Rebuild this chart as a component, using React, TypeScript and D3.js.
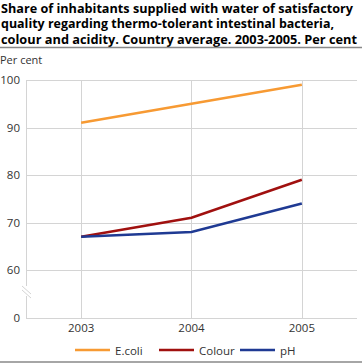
import React from "react";
import * as d3 from "d3";

const years = ["2003", "2004", "2005"];
const ecoli = [91, 95, 99];
const colour = [67, 71, 79];
const ph = [67, 68, 74];
const yTicks = [60, 70, 80, 90, 100];
const seriesNames = ["E.coli", "Colour", "pH"];
const seriesColors = ["#f79a33", "#a0100f", "#1f3a93"];
const titleLines = [
  "Share of inhabitants supplied with water of satisfactory",
  "quality regarding thermo-tolerant intestinal bacteria,",
  "colour and acidity. Country average. 2003-2005. Per cent",
];
const titleWidths = [352, 333, 356];

export default function App() {
  const W = 362, H = 364;
  const left = 26, right = 357;
  const x = d3.scaleBand<string>().domain(years).range([left, right]).padding(0);
  const xc = (d: string) => (x(d) as number) + x.bandwidth() / 2;
  const y = d3.scaleLinear().domain([60, 100]).range([270, 80]);
  const zeroY = 318;
  const series = [ecoli, colour, ph];
  const line = d3.line<number>().x((_, i) => xc(years[i])).y((v) => y(v));
  const font = "'Open Sans', 'DejaVu Sans', sans-serif";
  const legendX = [75, 159, 240];
  return (
    <svg width={W} height={H} style={{ position: "absolute", left: 0, top: 0 }} fontFamily={font}>
      <rect width={W} height={H} fill="#fff" />
      {titleLines.map((t, i) => (
        <text key={i} x={1} y={12.5 + i * 15.8} fontSize={12.5} fontWeight="bold" fill="#000"
          textLength={titleWidths[i]} lengthAdjust="spacingAndGlyphs">{t}</text>
      ))}
      <line x1={0} x2={W} y1={47.5} y2={47.5} stroke="#888" strokeWidth={1.5} />
      <text x={0} y={64} fontSize={11} fill="#333">Per cent</text>
      {yTicks.map((t) => (
        <g key={t}>
          <line x1={left} x2={right} y1={Math.round(y(t)) + 0.5} y2={Math.round(y(t)) + 0.5} stroke="#d4d4d4" />
          <text x={20} y={y(t) + 4} textAnchor="end" fontSize={11.5} fill="#333">{t}</text>
        </g>
      ))}
      {years.map((yr) => (
        <g key={yr}>
          <line x1={Math.round(xc(yr)) + 0.5} x2={Math.round(xc(yr)) + 0.5} y1={80} y2={zeroY} stroke="#d4d4d4" />
          <text x={xc(yr)} y={332} textAnchor="middle" fontSize={11.5} fill="#333">{yr}</text>
        </g>
      ))}
      <line x1={left} x2={right} y1={zeroY + 0.5} y2={zeroY + 0.5} stroke="#d4d4d4" />
      <line x1={left + 0.5} x2={left + 0.5} y1={80} y2={286} stroke="#d4d4d4" />
      <line x1={left + 0.5} x2={left + 0.5} y1={296} y2={zeroY} stroke="#d4d4d4" />
      <line x1={22} x2={31} y1={286} y2={294} stroke="#d4d4d4" />
      <line x1={22} x2={31} y1={290} y2={298} stroke="#d4d4d4" />
      <text x={20} y={zeroY + 4} textAnchor="end" fontSize={11.5} fill="#333">0</text>
      {series.map((s, i) => (
        <path key={i} d={line(s) as string} fill="none" stroke={seriesColors[i]} strokeWidth={2.5} />
      ))}
      {seriesNames.map((n, i) => (
        <g key={n}>
          <line x1={legendX[i]} x2={legendX[i] + 35} y1={350} y2={350} stroke={seriesColors[i]} strokeWidth={2.5} />
          <text x={legendX[i] + 40} y={355} fontSize={11.5} fill="#333">{n}</text>
        </g>
      ))}
      <line x1={0} x2={W} y1={362} y2={362} stroke="#888" strokeWidth={1.5} />
    </svg>
  );
}
